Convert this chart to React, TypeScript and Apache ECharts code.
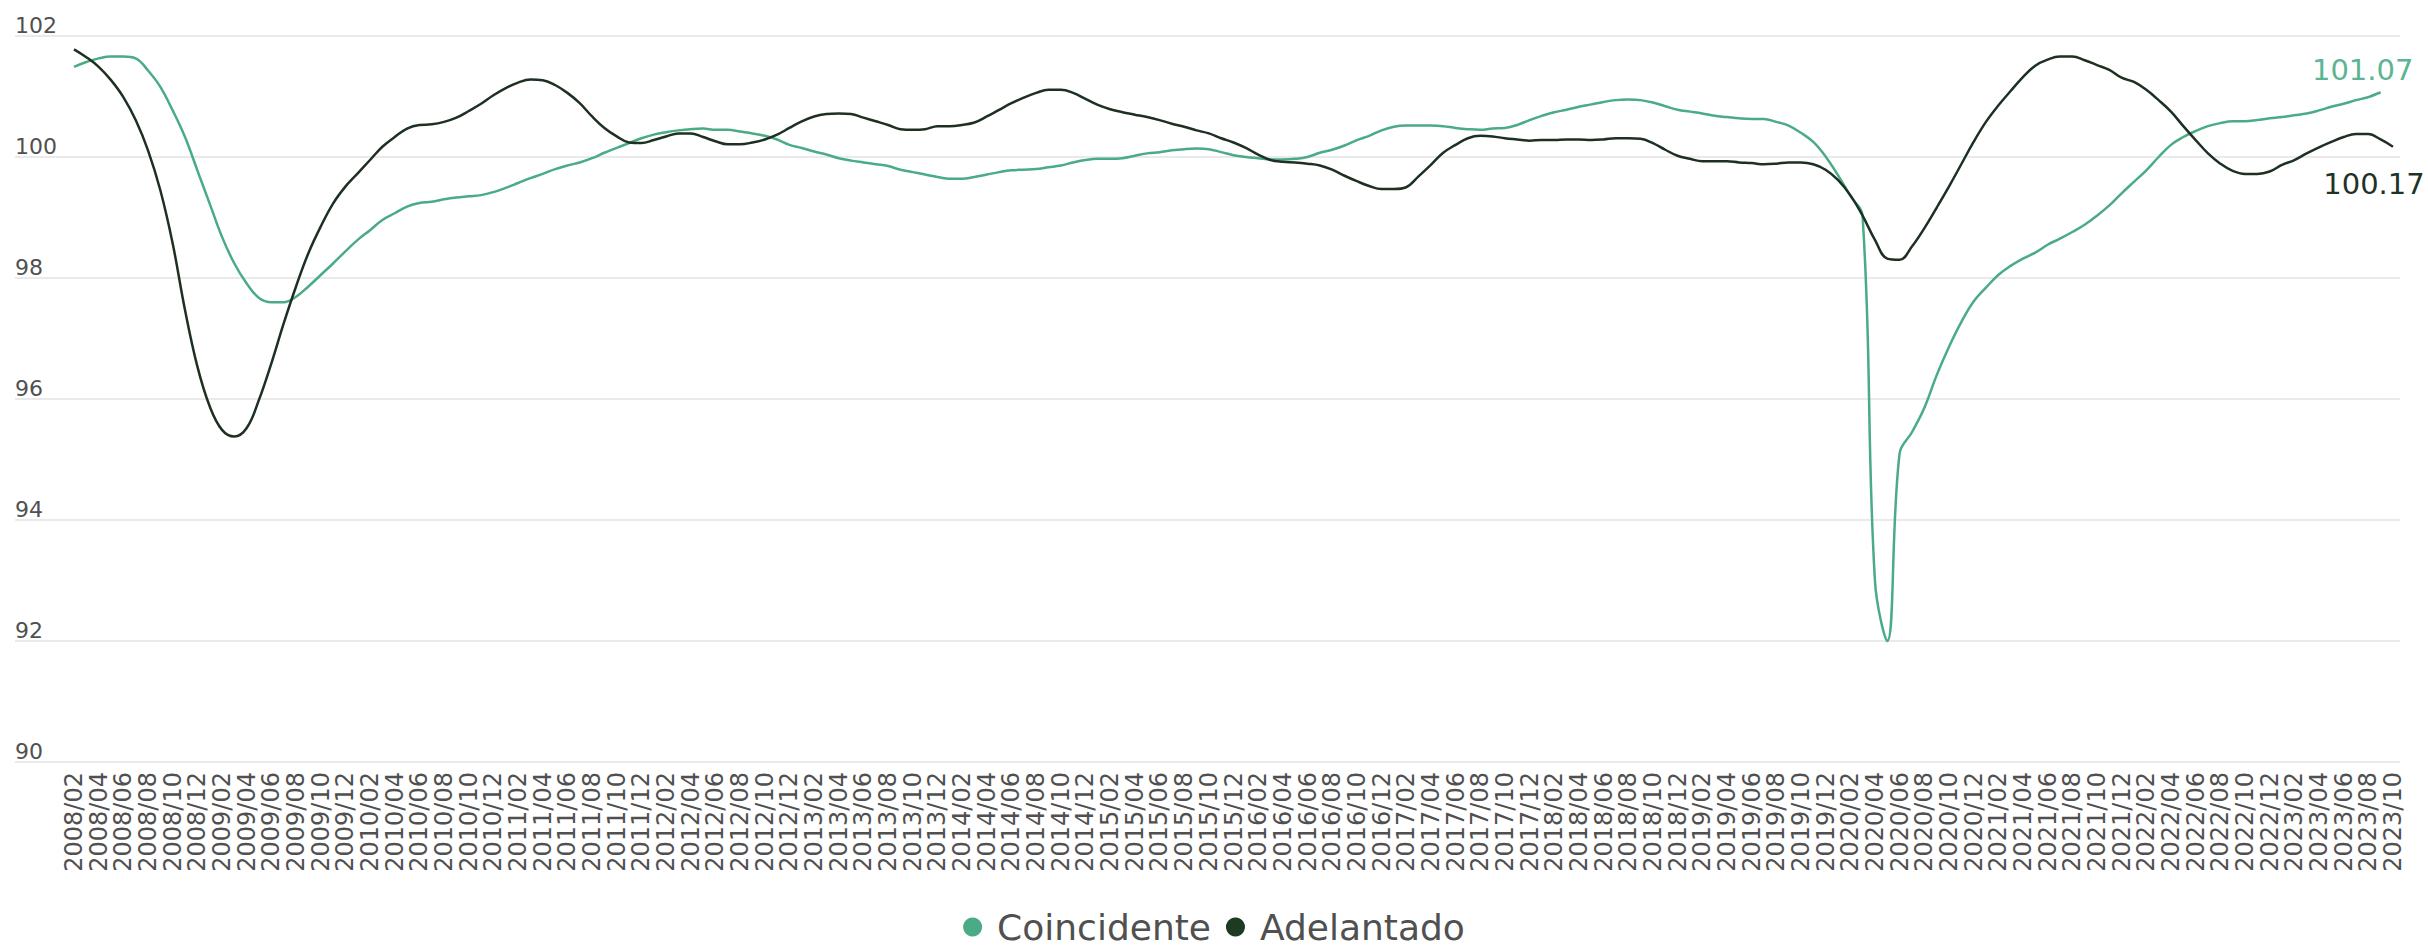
import React, { useEffect, useRef } from 'react';
import * as echarts from 'echarts';

// Monthly categories 2008/02 .. 2023/10
const START_YEAR = 2008;
const START_MONTH = 2;
const N_MONTHS = 189;
const categories: string[] = [];
for (let k = 0; k < N_MONTHS; k++) {
  const m = START_MONTH - 1 + k;
  const y = START_YEAR + Math.floor(m / 12);
  const mm = (m % 12) + 1;
  categories.push(`${y}/${String(mm).padStart(2, '0')}`);
}

const seriesNames = ['Coincidente', 'Adelantado'];

// Coincidente: 2008/02 .. 2023/09
const coincidente = [
  101.49, 101.57, 101.63, 101.66, 101.66, 101.63, 101.43, 101.16, 100.77, 100.33,
  99.78, 99.23, 98.68, 98.24, 97.91, 97.67, 97.6, 97.6, 97.69, 97.86,
  98.05, 98.24, 98.44, 98.63, 98.79, 98.96, 99.07, 99.18, 99.24, 99.26,
  99.3, 99.33, 99.35, 99.37, 99.42, 99.49, 99.57, 99.65, 99.72, 99.8,
  99.86, 99.91, 99.98, 100.07, 100.15, 100.23, 100.31, 100.37, 100.41, 100.44,
  100.46, 100.47, 100.45, 100.45, 100.42, 100.39, 100.35, 100.29, 100.2, 100.15,
  100.09, 100.04, 99.98, 99.94, 99.91, 99.88, 99.85, 99.79, 99.75, 99.71,
  99.67, 99.64, 99.64, 99.67, 99.71, 99.75, 99.78, 99.79, 99.8, 99.83,
  99.86, 99.91, 99.95, 99.97, 99.97, 99.98, 100.02, 100.06, 100.08, 100.11,
  100.13, 100.14, 100.13, 100.08, 100.03, 100.0, 99.98, 99.96, 99.96, 99.97,
  100.0, 100.07, 100.12, 100.19, 100.28, 100.35, 100.44, 100.5, 100.52, 100.52,
  100.52, 100.51, 100.48, 100.46, 100.45, 100.47, 100.48, 100.53, 100.61, 100.68,
  100.74, 100.78, 100.83, 100.87, 100.91, 100.94, 100.95, 100.94, 100.9, 100.84,
  100.78, 100.75, 100.72, 100.68, 100.66, 100.64, 100.63, 100.63, 100.58, 100.52,
  100.4, 100.25, 100.01, 99.7, 99.36, 99.02, 93.0, 92.0, 95.1, 95.45,
  95.85, 96.39, 96.86, 97.27, 97.61, 97.84, 98.05, 98.2, 98.32, 98.42,
  98.55, 98.65, 98.76, 98.88, 99.03, 99.2, 99.4, 99.59, 99.78, 100.0,
  100.2, 100.33, 100.43, 100.51, 100.56, 100.59, 100.59, 100.61, 100.64, 100.66,
  100.69, 100.72, 100.77, 100.83, 100.88, 100.94, 100.99, 101.07,
];

// Adelantado: 2008/02 .. 2023/10
const adelantado = [
  101.78, 101.65, 101.49, 101.27, 100.99, 100.61, 100.11, 99.45, 98.57, 97.47,
  96.54, 95.88, 95.49, 95.38, 95.52, 95.99, 96.59, 97.25, 97.86, 98.41,
  98.85, 99.23, 99.51, 99.73, 99.95, 100.17, 100.33, 100.47, 100.53, 100.54,
  100.58, 100.65, 100.76, 100.88, 101.02, 101.14, 101.23, 101.28, 101.27, 101.19,
  101.06, 100.89, 100.67, 100.48, 100.34, 100.24, 100.23, 100.28, 100.34, 100.39,
  100.39, 100.33, 100.26, 100.21, 100.21, 100.24, 100.29, 100.37, 100.48, 100.59,
  100.67, 100.71, 100.72, 100.71, 100.65, 100.59, 100.53, 100.46, 100.45, 100.46,
  100.51, 100.51, 100.53, 100.57, 100.67, 100.78, 100.89, 100.98, 101.06, 101.11,
  101.11, 101.06, 100.96, 100.86, 100.79, 100.74, 100.7, 100.66, 100.61, 100.55,
  100.5, 100.44, 100.39, 100.31, 100.24, 100.15, 100.04, 99.95, 99.92, 99.91,
  99.89, 99.86, 99.79, 99.69, 99.6, 99.52, 99.47, 99.47, 99.5, 99.68,
  99.87, 100.07, 100.2, 100.31, 100.35, 100.34, 100.31, 100.29, 100.27, 100.28,
  100.28, 100.29, 100.29, 100.28, 100.29, 100.31, 100.31, 100.3, 100.23, 100.12,
  100.02, 99.97, 99.93, 99.93, 99.93, 99.91, 99.9, 99.88, 99.89, 99.91,
  99.91, 99.88, 99.79, 99.62, 99.37, 99.03, 98.63, 98.32, 98.3, 98.52,
  98.82, 99.16, 99.51, 99.88, 100.25, 100.58, 100.85, 101.09, 101.32, 101.51,
  101.61, 101.66, 101.66, 101.6, 101.52, 101.44, 101.31, 101.24, 101.11, 100.94,
  100.75, 100.51, 100.28, 100.06, 99.89, 99.77, 99.72, 99.72, 99.76, 99.87,
  99.95, 100.06, 100.16, 100.25, 100.33, 100.38, 100.38, 100.29, 100.17,
];

const Y_MIN = 90;
const Y_MAX = 102;
const Y_INTERVAL = 2;

const GREEN = '#4aab87';
const DARK = '#1d3022';
const FONT = 'DejaVu Sans';

const fmt = (p: any) => {
  const v = Array.isArray(p.value) ? p.value[1] : p.value;
  return Number(v).toFixed(2);
};

export default function App() {
  const ref = useRef<HTMLDivElement>(null);

  useEffect(() => {
    if (!ref.current) return;
    const chart = echarts.init(ref.current, undefined, { renderer: 'svg' });
    chart.setOption({
      animation: false,
      backgroundColor: '#ffffff',
      textStyle: { fontFamily: FONT },
      grid: [
        { left: 74, right: 35, top: 36, bottom: 187 },
        { left: 15, right: 28, top: 36, bottom: 187 },
      ],
      xAxis: [
        {
          type: 'category',
          gridIndex: 0,
          data: categories,
          boundaryGap: false,
          axisLine: { show: false },
          axisTick: { show: false },
          splitLine: { show: false },
          axisLabel: {
            rotate: 90,
            interval: 1,
            fontSize: 24,
            color: '#505050',
            margin: 10,
            fontFamily: FONT,
          },
        },
        { type: 'value', gridIndex: 1, show: false, min: 0, max: 1 },
      ],
      yAxis: [
        { type: 'value', gridIndex: 0, min: Y_MIN, max: Y_MAX, interval: Y_INTERVAL, show: false },
        {
          type: 'value',
          gridIndex: 1,
          min: Y_MIN,
          max: Y_MAX,
          interval: Y_INTERVAL,
          axisLine: { show: false },
          axisTick: { show: false },
          splitLine: { show: true, lineStyle: { color: '#e3e3e3', width: 1.5 } },
          axisLabel: {
            inside: true,
            margin: 0,
            verticalAlign: 'bottom',
            fontSize: 22,
            color: '#505050',
            fontFamily: FONT,
          },
        },
      ],
      legend: {
        left: 'center',
        top: 904,
        icon: 'circle',
        itemWidth: 19,
        itemHeight: 19,
        itemGap: 15,
        data: seriesNames,
        textStyle: {
          fontSize: 36,
          color: '#505050',
          fontFamily: FONT,
          padding: [0, 0, 0, 10],
        },
      },
      series: [
        {
          name: seriesNames[0],
          type: 'line',
          xAxisIndex: 0,
          yAxisIndex: 0,
          data: coincidente,
          smooth: 0.4,
          showSymbol: false,
          lineStyle: { width: 2.5, color: GREEN },
          itemStyle: { color: GREEN },
          endLabel: {
            show: true,
            formatter: fmt,
            color: '#5cb592',
            fontSize: 29,
            fontFamily: FONT,
            align: 'center',
            verticalAlign: 'middle',
            distance: 0,
            offset: [-18, -22],
          },
        },
        {
          name: seriesNames[1],
          type: 'line',
          xAxisIndex: 0,
          yAxisIndex: 0,
          data: adelantado,
          smooth: 0.4,
          showSymbol: false,
          lineStyle: { width: 2.5, color: DARK },
          itemStyle: { color: '#1e3a20' },
          endLabel: {
            show: true,
            formatter: fmt,
            color: '#1f3324',
            fontSize: 29,
            fontFamily: FONT,
            align: 'center',
            verticalAlign: 'middle',
            distance: 0,
            offset: [-19, 37],
          },
        },
      ],
    });
    return () => chart.dispose();
  }, []);

  return (
    <div
      ref={ref}
      style={{ position: 'fixed', left: 0, top: 0, width: 2428, height: 949, background: '#fff' }}
    />
  );
}
